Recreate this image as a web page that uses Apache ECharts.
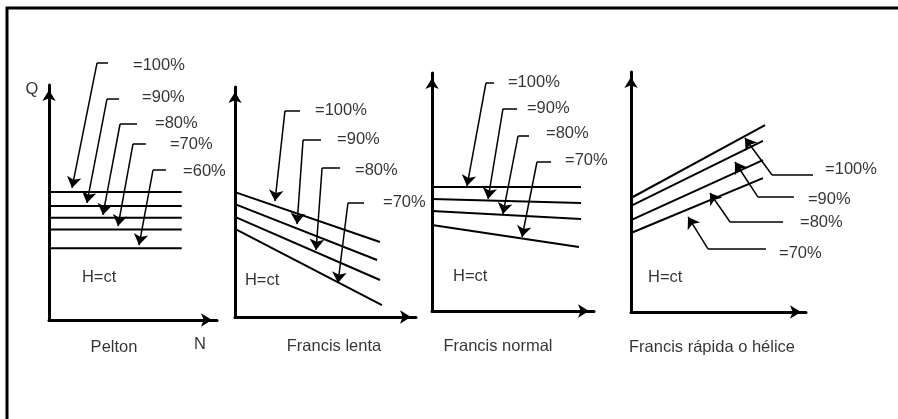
<!DOCTYPE html>
<html><head><meta charset="utf-8">
<script src="https://cdn.jsdelivr.net/npm/echarts@6/dist/echarts.min.js"></script>
<style>html,body{margin:0;padding:0;background:#fff}#c{width:898px;height:419px}</style>
</head><body><div id="c"></div>
<script>
// ---------- data (Q vs N, relative units 0..100 per panel) ----------
const panelNames = ['Pelton', 'Francis lenta', 'Francis normal', 'Francis rápida o hélice'];
const openingLabels = [
  ['=100%', '=90%', '=80%', '=70%', '=60%'],
  ['=100%', '=90%', '=80%', '=70%'],
  ['=100%', '=90%', '=80%', '=70%'],
  ['=100%', '=90%', '=80%', '=70%']
];
// Q at N = 0 for each opening curve
const qStart = [
  [54.5, 48.5, 43.5, 38.5, 30.5],
  [54.3, 49.1, 43.5, 38.3],
  [52.1, 47.1, 42.0, 36.1],
  [47.5, 44.2, 38.3, 32.9]
];
// Q at end of each curve
const qEnd = [
  [54.5, 48.5, 43.5, 38.5, 30.5],
  [32.6, 24.8, 16.1, 5.2],
  [52.1, 45.4, 38.7, 26.9],
  [77.9, 71.3, 63.3, 55.8]
];
// N at end of each curve
const nEnd = [
  [79, 79, 79, 79, 79],
  [80.1, 78.5, 80.1, 81.2],
  [92, 92, 92, 90.7],
  [76.6, 75.4, 75.4, 75.4]
];
// annotation arrows: tip on curve, elbow, end of horizontal leader, label anchor
const arrowTip = [
  [[13.7, 56.2], [22.6, 49.8], [32.1, 44.7], [41.1, 40], [53.6, 31.9]],
  [[22.1, 50.4], [34.3, 40.4], [44.8, 29.1], [56.9, 14.8]],
  [[21.6, 52.5], [34.6, 47.1], [43.8, 40.8], [55.6, 31.1]],
  [[65.1, 72.5], [59.4, 62.5], [45.1, 49.6], [32.6, 39.6]]
];
const arrowElbow = [
  [[28.6, 109.4], [34.5, 94], [42.3, 83.4], [50, 74.9], [61.9, 63.8]],
  [[27.6, 89.6], [37.6, 77], [48.1, 64.8], [62.4, 49.6]],
  [[33.3, 95.8], [43.8, 84.9], [53.1, 73.5], [64.8, 62.6]],
  [[80.6, 57.1], [72.6, 47.9], [56.6, 37.5], [44, 26.3]]
];
const arrowStub = [
  [[35.1, 109.4], [41.7, 94], [52.4, 83.4], [57.7, 74.9], [69.6, 63.8]],
  [[35.9, 89.6], [47.5, 77], [58, 64.8], [71.3, 49.6]],
  [[38.3, 95.8], [52.5, 84.9], [59.9, 73.5], [73.5, 62.6]],
  [[104, 57.1], [93.1, 47.9], [86.9, 37.5], [77.1, 26.3]]
];
const labelAnchor = [
  [[50, 108.5], [55.4, 94.5], [63.1, 83.8], [72, 74.5], [79.8, 63.4]],
  [[44.2, 90], [56.4, 77.4], [66.3, 63.5], [81.8, 50]],
  [[46.9, 96.2], [58.6, 85.3], [70.4, 74.4], [82.1, 63.4]],
  [[110.9, 59.2], [101.1, 47.1], [96.6, 37.5], [84.6, 24.6]]
];
const hctAnchor = [[19.6, 18.3], [5.5, 16.1], [13, 14.7], [9.7, 14.6]];
const nameAnchor = [[38.7, -11.5], [54.7, -13], [40.7, -15.1], [46.3, -14.6]];
const axisTitles = [{text: 'Q', pos: [-10.1, 97.9]}, {text: 'N', pos: [89.9, -10.6]}];

// ---------- layout ----------
const grids = [
  {left: 49, top: 85, width: 168, height: 235},
  {left: 235, top: 87, width: 181, height: 230},
  {left: 432, top: 73, width: 162, height: 238},
  {left: 631, top: 72, width: 175, height: 240}
];
const FONT = "'Liberation Sans','Arial',sans-serif";
const FS = 16.5;

const axisLine = {show: true, symbol: ['none', 'arrow'], symbolSize: [10, 11], symbolOffset: [0, -5],
  lineStyle: {color: '#000', width: 3}};
const xAxis = [], yAxis = [], series = [];
grids.forEach((g, p) => {
  xAxis.push({type: 'value', gridIndex: p, min: 0, max: 100, axisLine, axisTick: {show: false},
    axisLabel: {show: false}, splitLine: {show: false}});
  yAxis.push({type: 'value', gridIndex: p, min: 0, max: 100, axisLine, axisTick: {show: false},
    axisLabel: {show: false}, splitLine: {show: false}});
  // curves
  qStart[p].forEach((q0, i) => {
    series.push({type: 'line', xAxisIndex: p, yAxisIndex: p, showSymbol: false, symbol: 'none',
      silent: true, lineStyle: {color: '#000', width: 2},
      data: [[0, q0], [nEnd[p][i], qEnd[p][i]]]});
  });
  // leader stubs
  series.push({type: 'lines', coordinateSystem: 'cartesian2d', xAxisIndex: p, yAxisIndex: p, clip: false,
    symbol: 'none', lineStyle: {color: '#000', width: 1.5, opacity: 1},
    data: arrowStub[p].map((s, i) => ({coords: [s, arrowElbow[p][i]]}))});
  // arrows
  series.push({type: 'lines', coordinateSystem: 'cartesian2d', xAxisIndex: p, yAxisIndex: p, clip: false,
    symbol: ['none', 'arrow'], symbolSize: [8, 11], lineStyle: {color: '#000', width: 1.5, opacity: 1},
    data: arrowElbow[p].map((e, i) => ({coords: [e, arrowTip[p][i]]}))});
  // texts
  const texts = labelAnchor[p].map((a, i) => ({value: a, name: openingLabels[p][i]}));
  texts.push({value: hctAnchor[p], name: 'H=ct'});
  texts.push({value: nameAnchor[p], name: panelNames[p], label: {position: 'inside'}});
  if (p === 0) axisTitles.forEach(t => texts.push({value: t.pos, name: t.text, label: {position: 'inside'}}));
  series.push({type: 'scatter', xAxisIndex: p, yAxisIndex: p, clip: false, symbolSize: 0, silent: true,
    itemStyle: {color: 'transparent'},
    label: {show: true, position: 'right', distance: 0, formatter: '{b}', color: '#000',
      fontFamily: FONT, fontSize: FS},
    data: texts});
});

const chart = echarts.init(document.getElementById('c'), null, {renderer: 'canvas'});
chart.setOption({
  animation: false,
  backgroundColor: '#fff',
  grid: grids.map(g => Object.assign({containLabel: false}, g)),
  xAxis, yAxis, series,
  graphic: [{type: 'rect', shape: {x: 7, y: 8, width: 1000, height: 500},
    style: {fill: 'none', stroke: '#000', lineWidth: 3}, silent: true}]
});
</script></body></html>
